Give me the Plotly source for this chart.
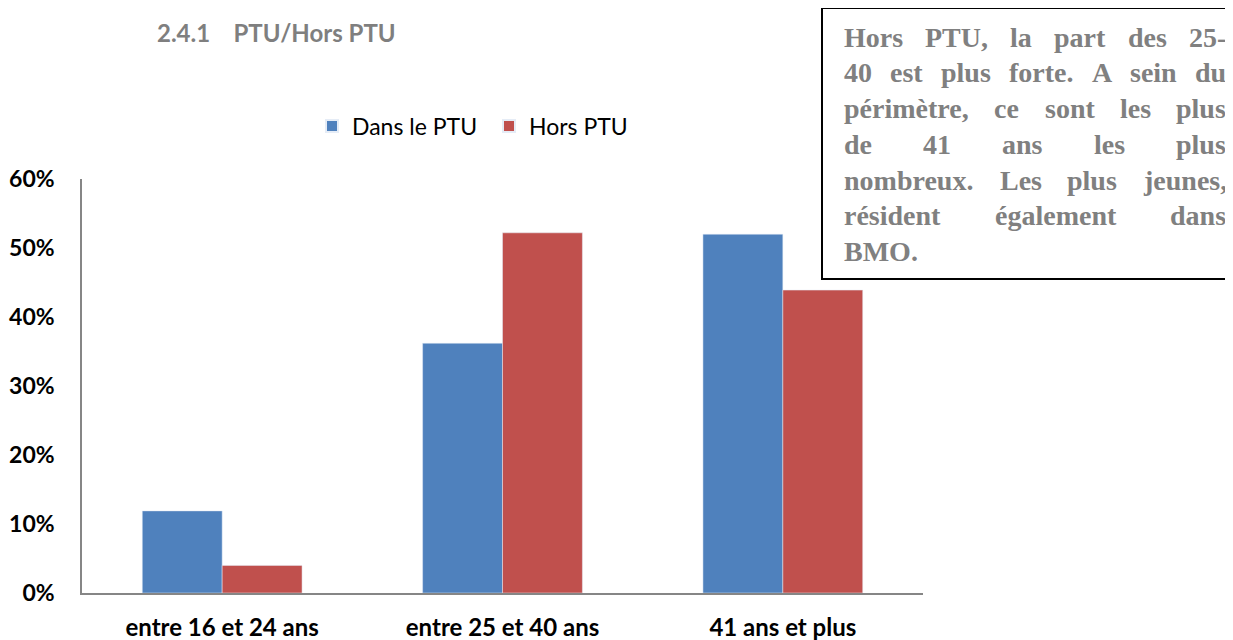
import plotly.graph_objects as go

categories = ['entre 16 et 24 ans', 'entre 25 et 40 ans', '41 ans et plus']
dans_ptu = [0.119, 0.362, 0.520]
hors_ptu = [0.040, 0.522, 0.439]
y_ticks = [0, 0.1, 0.2, 0.3, 0.4, 0.5, 0.6]
y_tick_labels = ['0%', '10%', '20%', '30%', '40%', '50%', '60%']

title_text = '2.4.1&nbsp;&nbsp;&nbsp;&nbsp;PTU/Hors PTU'
box_lines = [
    'Hors PTU, la part des 25-',
    '40 est plus forte. A sein du',
    'périmètre, ce sont les plus',
    'de 41 ans les plus',
    'nombreux. Les plus jeunes,',
    'résident également dans',
    'BMO.',
]

W, H = 1233, 640
OFF = 8  # the page body margin shifts the figure by this much
PL, PR, PT, PB = 82, 923, 179, 593  # plot area, page pixels


def px_x(x):
    return (x - PL) / (PR - PL)


def px_y(y):
    return (PB - y) / (PB - PT)


# Times/Liberation Serif bold advance widths (per 1000 em), used to justify the box text
TIMES_BOLD = {
    ' ': 250, ',': 250, '-': 333, '.': 250,
    'A': 722, 'B': 667, 'H': 778, 'L': 667, 'M': 944, 'O': 778, 'P': 611, 'T': 667, 'U': 722,
    'a': 500, 'b': 556, 'c': 444, 'd': 556, 'e': 444, 'f': 333, 'g': 500, 'i': 278, 'j': 333,
    'l': 278, 'm': 833, 'n': 556, 'o': 500, 'p': 556, 'r': 444, 's': 389, 't': 333, 'u': 556,
    'x': 500, 'é': 444, 'è': 444,
}
for d in '0123456789':
    TIMES_BOLD[d] = 500


def word_width(word, size):
    return sum(TIMES_BOLD.get(c, 500) for c in word) * size / 1000


fig = go.Figure()
fig.add_trace(go.Bar(x=categories, y=dans_ptu, name='Dans le PTU', marker_color='#4F81BD'))
fig.add_trace(go.Bar(x=categories, y=hors_ptu, name='Hors PTU', marker_color='#C0504D'))

fig.update_layout(
    width=W, height=H,
    margin=dict(l=PL - OFF, r=W - PR + OFF, t=PT - OFF, b=H - PB + OFF, autoexpand=False),
    plot_bgcolor='white', paper_bgcolor='white',
    barmode='group', bargap=0.43, bargroupgap=0,
    font=dict(family='Lato', color='black'),
    showlegend=True,
    legend=dict(
        orientation='h', x=px_x(312), y=px_y(126), xanchor='left', yanchor='middle',
        font=dict(family='Lato', size=23, color='black'),
        itemsizing='constant', tracegroupgap=0, entrywidth=132,
    ),
    xaxis=dict(
        showline=True, linecolor='#868686', linewidth=1.5, showgrid=False, automargin=False,
        ticks='', tickfont=dict(family='Lato', size=24, color='black', weight='bold'),
        ticklabelstandoff=12,
    ),
    yaxis=dict(
        range=[0, 0.6], tickvals=y_ticks, ticktext=y_tick_labels, automargin=False,
        showline=True, linecolor='#868686', linewidth=1.5, showgrid=False, zeroline=False,
        ticks='', tickfont=dict(family='Lato', size=23, color='black', weight='bold'),
        ticklabelstandoff=21,
    ),
)

# section heading
fig.add_annotation(
    text=title_text, xref='paper', yref='paper', x=px_x(276), y=px_y(32),
    xanchor='center', yanchor='middle', showarrow=False,
    font=dict(family='Lato', size=24, color='#7F7F7F', weight='bold'),
)

# comment box
fig.add_shape(
    type='rect', xref='paper', yref='paper',
    x0=px_x(822), x1=px_x(1250), y0=px_y(279), y1=px_y(8),
    line=dict(color='black', width=2), fillcolor='white', layer='above',
)

box_size = 28
box_left, box_right = 843, 1225
line_top, line_step = 37, 35.8
for i, line in enumerate(box_lines):
    words = line.split(' ')
    yy = line_top + i * line_step
    widths = [word_width(w, box_size) for w in words]
    if i < len(box_lines) - 1 and len(words) > 1:
        gap = (box_right - box_left - sum(widths)) / (len(words) - 1)
    else:
        gap = box_size * 0.25
    xx = box_left
    for w, ww in zip(words, widths):
        fig.add_annotation(
            text=w, xref='paper', yref='paper', x=px_x(xx), y=px_y(yy),
            xanchor='left', yanchor='middle', showarrow=False, borderpad=0,
            font=dict(family='Liberation Serif', size=box_size, color='#808080', weight='bold'),
        )
        xx += ww + gap

fig.write_html('out.html')
